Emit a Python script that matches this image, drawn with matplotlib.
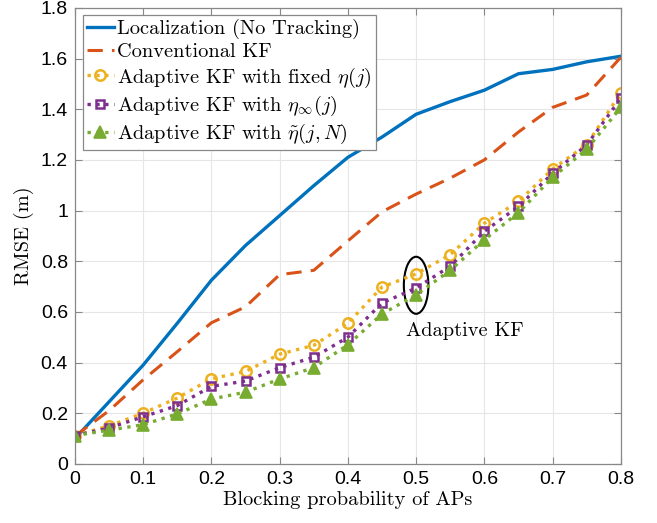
import matplotlib.pyplot as plt
import numpy as np
from matplotlib.patches import Ellipse

plt.rcParams["mathtext.fontset"] = "cm"

# blocking probability of APs
block_prob = np.arange(0, 0.81, 0.05)

rmse_localization = [0.10, 0.245, 0.39, 0.555, 0.725, 0.862, 0.98, 1.098, 1.21,
                     1.29, 1.38, 1.43, 1.475, 1.54, 1.557, 1.587, 1.609]
rmse_conventional = [0.11, 0.21, 0.332, 0.443, 0.557, 0.62, 0.747, 0.764, 0.88,
                     0.995, 1.065, 1.128, 1.20, 1.31, 1.407, 1.456, 1.605]
rmse_fixed = [0.112, 0.15, 0.20, 0.26, 0.336, 0.365, 0.433, 0.468, 0.555,
              0.698, 0.75, 0.826, 0.95, 1.036, 1.164, 1.26, 1.465]
rmse_inf = [0.112, 0.142, 0.186, 0.23, 0.306, 0.327, 0.38, 0.421, 0.50,
            0.635, 0.694, 0.78, 0.918, 1.016, 1.147, 1.259, 1.443]
rmse_tilde = [0.112, 0.133, 0.155, 0.197, 0.256, 0.283, 0.335, 0.38, 0.47,
              0.592, 0.667, 0.764, 0.885, 0.992, 1.131, 1.242, 1.407]

labels = [
    "Localization (No Tracking)",
    "Conventional KF",
    r"Adaptive KF with fixed $\eta(j)$",
    r"Adaptive KF with $\eta_\infty(j)$",
    r"Adaptive KF with $\tilde{\eta}(j,N)$",
]
x_ticks = [0, 0.1, 0.2, 0.3, 0.4, 0.5, 0.6, 0.7, 0.8]
y_ticks = [0, 0.2, 0.4, 0.6, 0.8, 1, 1.2, 1.4, 1.6, 1.8]

fig = plt.figure(figsize=(6.57, 5.23), dpi=100)
ax = fig.add_axes([0.114, 0.113, 0.831, 0.872])

ax.plot(block_prob, rmse_localization, color="#0072BD", lw=2.4, label=labels[0])
ax.plot(block_prob, rmse_conventional, color="#D95319", lw=2.2,
        dashes=(5, 3), label=labels[1])
ax.plot(block_prob, rmse_fixed, color="#EDB120", lw=2.4, ls=":", marker="o",
        ms=7.5, mfc="none", mew=1.8, label=labels[2])
ax.plot(block_prob, rmse_inf, color="#7E2F8E", lw=2.4, ls=":", marker="s",
        ms=5.5, mfc="none", mew=1.8, label=labels[3])
ax.plot(block_prob, rmse_tilde, color="#77AC30", lw=2.4, ls=":", marker="^",
        ms=8, mew=1.2, label=labels[4])

ax.add_patch(Ellipse((0.5, 0.705), 0.036, 0.225, fill=False, color="black", lw=1.5))
ax.text(0.572, 0.525, "Adaptive KF", family="cmr10", fontsize=14.7,
        ha="center", va="center")

ax.set_xlim(0, 0.8)
ax.set_ylim(0, 1.8)
ax.set_xticks(x_ticks)
ax.set_yticks(y_ticks)
ax.set_xticklabels([f"{v:g}" for v in x_ticks], family="Liberation Sans", fontsize=14)
ax.set_yticklabels([f"{v:g}" for v in y_ticks], family="Liberation Sans", fontsize=14)
ax.tick_params(direction="in", length=5, color="#888888", pad=5,
               top=True, right=True)
ax.grid(True, color="#e6e6e6", lw=0.8)
ax.set_axisbelow(True)
for s in ax.spines.values():
    s.set_color("#888888")
    s.set_linewidth(0.9)

ax.set_xlabel("Blocking probability of APs", family="cmr10", fontsize=14.7, labelpad=2)
ax.set_ylabel("RMSE (m)", family="cmr10", fontsize=14.7, labelpad=5)

leg = ax.legend(loc="upper left", bbox_to_anchor=(0.014, 0.985), borderaxespad=0,
                prop={"family": "cmr10", "size": 14.7}, fancybox=False,
                handlelength=1.35, handletextpad=0.15, labelspacing=0.2,
                borderpad=0.2, framealpha=1)
leg.get_frame().set_edgecolor("#888888")
leg.get_frame().set_linewidth(0.9)

fig.savefig("out.png", dpi=100)
